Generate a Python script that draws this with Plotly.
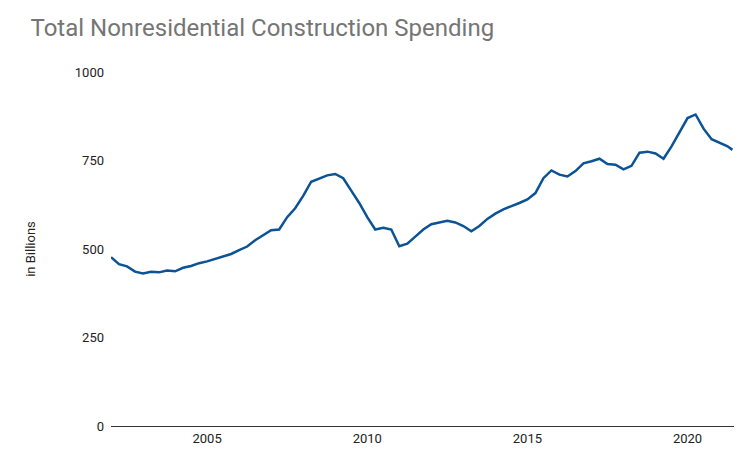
import plotly.graph_objects as go

start_year = 2002.0
values = [477, 457, 451, 436, 431, 436, 434, 439,
          437, 447, 452, 460, 465, 472, 480, 486,
          497, 507, 525, 540, 553, 555, 590, 615,
          650, 690, 700, 708, 712, 700, 665, 630,
          590, 555, 560, 555, 508, 515, 535, 555,
          570, 575, 580, 575, 565, 550, 565, 585,
          600, 612, 620, 630, 640, 658, 700, 722,
          710, 705, 720, 742, 748, 755, 740, 738,
          725, 735, 772, 775, 770, 755, 790, 828,
          870, 880, 840, 810, 800, 790, 780]
dates = [start_year + 0.25 * i for i in range(len(values))]
dates[-1] = 2021.4

fig = go.Figure(go.Scatter(x=dates, y=values, mode="lines",
                           line=dict(color="#0b5394", width=2.5), hoverinfo="skip"))
fig.update_layout(
    width=750, height=463, paper_bgcolor="white", plot_bgcolor="white",
    margin=dict(l=103, r=24, t=64, b=45, autoexpand=False),
    title=dict(text="Total Nonresidential Construction Spending", x=0.03, xanchor="left",
               y=0.975, yanchor="top", font=dict(family="Roboto, Arial", size=24, color="#757575")),
    font=dict(family="Roboto, Arial", size=13, color="#222"),
    showlegend=False,
    xaxis=dict(range=[2002, 2021.45], tickvals=[2005, 2010, 2015, 2020], showgrid=False,
               showline=True, linecolor="#333", linewidth=1, zeroline=False, ticks="",
               automargin=False),
    yaxis=dict(range=[0, 1000], tickvals=[0, 250, 500, 750, 1000], showgrid=False,
               zeroline=False, showline=False, ticks="", ticklabelstandoff=6, automargin=False,
               title=dict(text="in Billions", font=dict(size=13), standoff=36)),
)
fig.write_html("out.html")
